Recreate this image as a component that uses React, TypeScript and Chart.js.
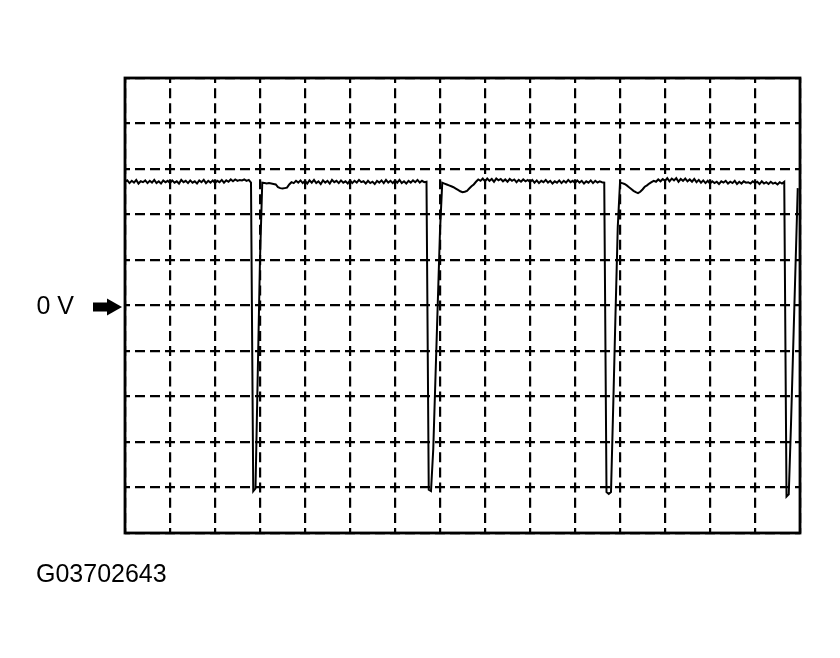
import React, { useEffect, useRef } from 'react';
import { Chart, registerables } from 'chart.js';

Chart.register(...registerables);

// Oscilloscope screen: 15 horizontal divisions, 10 vertical divisions (0 V at centre)
const xRange = [0, 15];
const yRange = [-5, 5];
const zeroLabel = '0 V';
const caption = 'G03702643';
// time base: one sample every 0.05 division
const sampleStep = 0.05;

// trace level in divisions, one value per sample
const traceVolts = [
  // 0.00 - 0.95
  2.72, 2.75, 2.69, 2.74, 2.70, 2.76, 2.68, 2.73, 2.71, 2.75, 2.69, 2.74, 2.70, 2.76, 2.69, 2.73, 2.68, 2.75, 2.71, 2.74,
  // 1.00 - 1.95
  2.69, 2.75, 2.70, 2.73, 2.68, 2.76, 2.71, 2.74, 2.69, 2.75, 2.70, 2.73, 2.68, 2.75, 2.71, 2.76, 2.69, 2.74, 2.70, 2.75,
  // 2.00 - 2.95
  2.69, 2.74, 2.71, 2.76, 2.70, 2.75, 2.72, 2.77, 2.73, 2.77, 2.74, 2.76, 2.75, 2.77, 2.74, 2.76, 2.70, -4.08, -4.02, -1.50,
  // 3.00 - 3.95
  1.02, 2.70, 2.69, 2.68, 2.69, 2.68, 2.67, 2.66, 2.60, 2.58, 2.57, 2.58, 2.59, 2.66, 2.71, 2.69, 2.74, 2.70, 2.75, 2.69,
  // 4.00 - 4.95
  2.74, 2.68, 2.75, 2.70, 2.76, 2.69, 2.73, 2.67, 2.75, 2.70, 2.74, 2.68, 2.76, 2.71, 2.74, 2.69, 2.75, 2.70, 2.73, 2.68,
  // 5.00 - 5.95
  2.75, 2.69, 2.74, 2.70, 2.76, 2.71, 2.73, 2.68, 2.74, 2.69, 2.72, 2.67, 2.74, 2.70, 2.75, 2.69, 2.76, 2.70, 2.74, 2.69,
  // 6.00 - 6.95
  2.75, 2.70, 2.76, 2.69, 2.73, 2.68, 2.74, 2.70, 2.75, 2.71, 2.76, 2.70, 2.74, 2.71, 2.72, -4.05, -4.08, -3.16, -1.56, 0.04,
  // 7.00 - 7.95
  1.64, 2.70, 2.68, 2.66, 2.64, 2.62, 2.60, 2.57, 2.54, 2.51, 2.49, 2.50, 2.52, 2.57, 2.62, 2.66, 2.72, 2.77, 2.74, 2.79,
  // 8.00 - 8.95
  2.73, 2.79, 2.74, 2.78, 2.72, 2.79, 2.75, 2.78, 2.73, 2.77, 2.72, 2.78, 2.74, 2.77, 2.71, 2.76, 2.72, 2.77, 2.73, 2.76,
  // 9.00 - 9.95
  2.71, 2.76, 2.70, 2.75, 2.69, 2.74, 2.71, 2.76, 2.70, 2.74, 2.68, 2.73, 2.70, 2.75, 2.69, 2.74, 2.70, 2.76, 2.71, 2.74,
  // 10.00 - 10.95
  2.69, 2.75, 2.70, 2.74, 2.68, 2.73, 2.70, 2.75, 2.69, 2.74, 2.70, 2.73, 2.71, 2.70, -4.10, -4.14, -4.10, -2.19, -0.19, 1.72,
  // 11.00 - 11.95
  2.70, 2.69, 2.67, 2.64, 2.60, 2.56, 2.52, 2.49, 2.47, 2.50, 2.55, 2.61, 2.64, 2.68, 2.71, 2.74, 2.72, 2.77, 2.73, 2.78,
  // 12.00 - 12.95
  2.74, 2.80, 2.73, 2.79, 2.75, 2.80, 2.72, 2.78, 2.74, 2.79, 2.73, 2.77, 2.72, 2.78, 2.71, 2.76, 2.70, 2.75, 2.69, 2.74,
  // 13.00 - 13.95
  2.68, 2.73, 2.69, 2.72, 2.67, 2.73, 2.70, 2.74, 2.68, 2.72, 2.69, 2.74, 2.67, 2.72, 2.68, 2.73, 2.70, 2.71, 2.68, 2.73,
  // 14.00 - 14.95
  2.69, 2.72, 2.67, 2.73, 2.68, 2.71, 2.67, 2.72, 2.68, 2.70, 2.66, 2.71, 2.68, 2.72, -4.20, -4.15, -2.61, -0.88, 0.85, 2.58,
];

const FONT = "'Liberation Sans', Arial, sans-serif";

const scopePlugin = {
  id: 'scopeFrame',
  afterDraw(chart: any) {
    const { ctx, chartArea: a, scales } = chart;
    ctx.save();
    ctx.strokeStyle = '#000';
    ctx.lineWidth = 2.8;
    ctx.strokeRect(a.left, a.top, a.right - a.left, a.bottom - a.top);
    // marker arrow pointing at the 0 V line
    const y0 = scales.y.getPixelForValue(0) + 1.5;
    ctx.fillStyle = '#000';
    ctx.fillRect(a.left - 32, y0 - 4.5, 17, 9);
    ctx.beginPath();
    ctx.moveTo(a.left - 18, y0 - 8.5);
    ctx.lineTo(a.left - 3, y0);
    ctx.lineTo(a.left - 18, y0 + 8.5);
    ctx.closePath();
    ctx.fill();
    ctx.restore();
  },
};

export default function App() {
  const canvasRef = useRef<HTMLCanvasElement | null>(null);

  useEffect(() => {
    if (!canvasRef.current) return;
    const points = traceVolts.map((v, i) => ({ x: i * sampleStep, y: v }));
    const chart = new Chart(canvasRef.current, {
      type: 'line',
      data: {
        datasets: [
          {
            data: points,
            borderColor: '#000',
            borderWidth: 2,
            pointRadius: 0,
            tension: 0,
            fill: false,
          },
        ],
      },
      options: {
        animation: false,
        responsive: false,
        devicePixelRatio: 1,
        layout: { padding: { left: 36, top: 78, right: 40, bottom: 0 } },
        plugins: {
          legend: { display: false },
          tooltip: { enabled: false },
          title: {
            display: true,
            text: caption,
            position: 'bottom',
            align: 'start',
            color: '#000',
            font: { family: FONT, size: 25, weight: 'normal' },
            padding: { top: 27, bottom: 68 },
          },
        },
        scales: {
          x: {
            type: 'linear',
            min: xRange[0],
            max: xRange[1],
            ticks: { display: false, stepSize: 1 },
            grid: { color: '#000', lineWidth: 2.2, drawTicks: false },
            border: { display: false, dash: [10, 5.17], dashOffset: 5 },
          },
          y: {
            type: 'linear',
            min: yRange[0],
            max: yRange[1],
            ticks: {
              stepSize: 1,
              autoSkip: false,
              callback: (v: any) => (Number(v) === 0 ? zeroLabel : ''),
              color: '#000',
              font: { family: FONT, size: 25 },
              padding: 51,
              labelOffset: 2,
            },
            grid: { color: '#000', lineWidth: 2.2, drawTicks: false },
            border: { display: false, dash: [10, 5], dashOffset: 5 },
            afterFit: (s: any) => {
              s.width = 89;
            },
          },
        },
      } as any,
      plugins: [scopePlugin],
    });
    return () => chart.destroy();
  }, []);

  return (
    <div style={{ position: 'absolute', left: 0, top: 0, width: 840, height: 658, background: '#fff' }}>
      <canvas ref={canvasRef} width={840} height={658} />
    </div>
  );
}
